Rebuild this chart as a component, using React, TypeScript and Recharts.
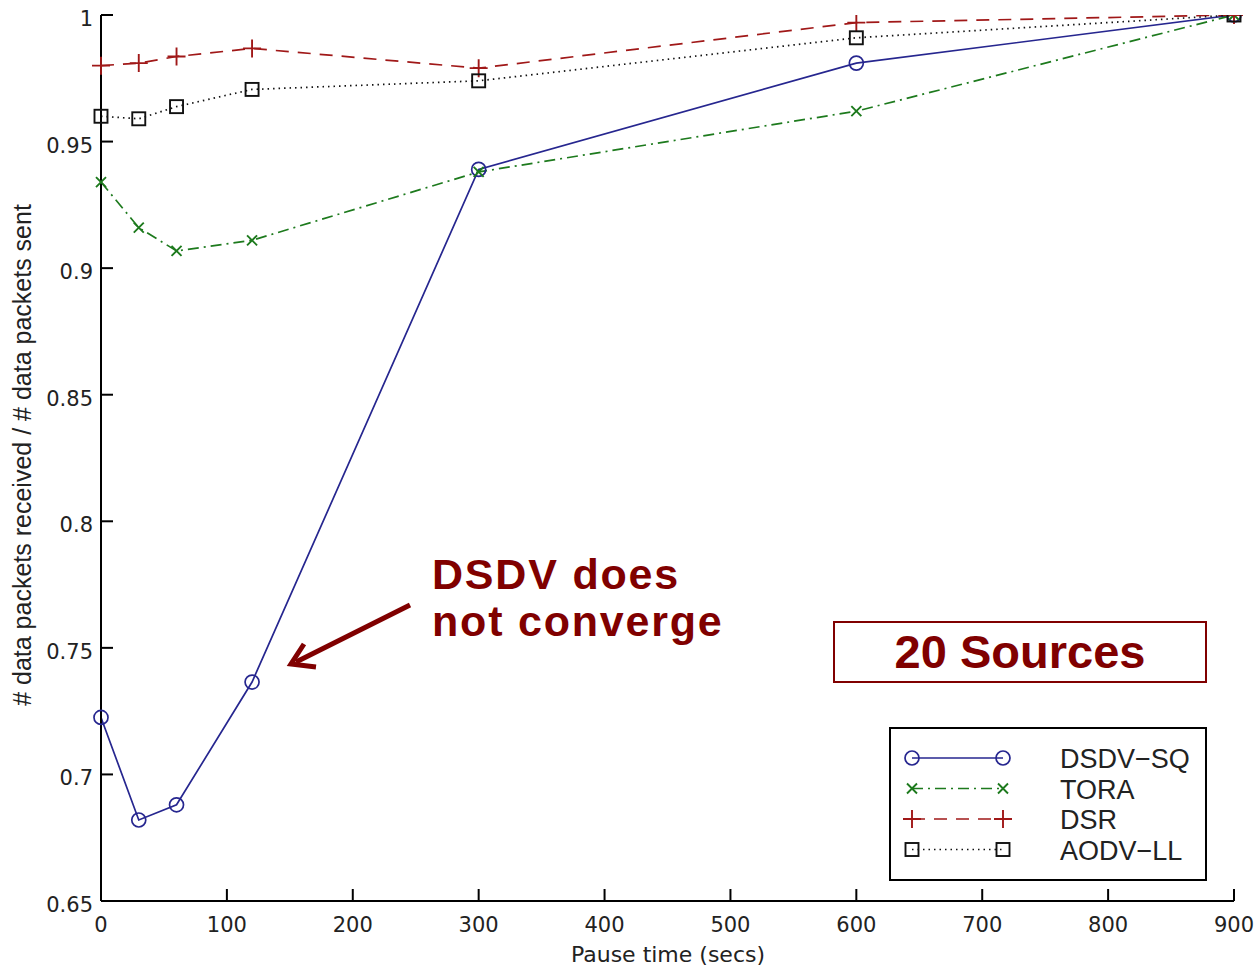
import { LineChart, Line, XAxis, YAxis } from 'recharts'

// pause time (s) at which each protocol was measured
const PAUSE = [0, 30, 60, 120, 300, 600, 900]

// fraction of data packets delivered
const DSDV_SQ = [0.7225, 0.682, 0.688, 0.7365, 0.939, 0.981, 1.0]
const TORA = [0.934, 0.916, 0.9068, 0.911, 0.938, 0.962, 1.0]
const DSR = [0.98, 0.981, 0.9836, 0.9868, 0.979, 0.997, 1.0]
const AODV_LL = [0.96, 0.959, 0.9638, 0.9706, 0.974, 0.991, 1.0]

const X_TICKS = [0, 100, 200, 300, 400, 500, 600, 700, 800, 900]
const Y_TICKS = [0.65, 0.7, 0.75, 0.8, 0.85, 0.9, 0.95, 1]

type MarkerKind = 'circle' | 'cross' | 'plus' | 'square'

const SERIES: { key: string; name: string; color: string; dash?: string; marker: MarkerKind; values: number[] }[] = [
  { key: 'dsdv', name: 'DSDV\u2212SQ', color: '#26268f', marker: 'circle', values: DSDV_SQ },
  { key: 'tora', name: 'TORA', color: '#1d7a1d', dash: '11 5 2 5', marker: 'cross', values: TORA },
  { key: 'dsr', name: 'DSR', color: '#a01818', dash: '13 9', marker: 'plus', values: DSR },
  { key: 'aodv', name: 'AODV\u2212LL', color: '#111111', dash: '1.5 4', marker: 'square', values: AODV_LL },
]

const rows = PAUSE.map((t, i) => {
  const row: Record<string, number> = { t }
  SERIES.forEach(s => { row[s.key] = s.values[i] })
  return row
})

const TICK_FONT = '"DejaVu Sans", sans-serif'
const RED = '#800000'

function Marker({ kind, cx, cy, color }: { kind: MarkerKind; cx: number; cy: number; color: string }) {
  if (kind === 'circle') return <circle cx={cx} cy={cy} r={7} fill="none" stroke={color} strokeWidth={1.7} />
  if (kind === 'cross') {
    const d = 5
    return (
      <path d={`M${cx - d},${cy - d}L${cx + d},${cy + d}M${cx - d},${cy + d}L${cx + d},${cy - d}`} stroke={color} strokeWidth={1.9} />
    )
  }
  if (kind === 'plus') {
    const d = 9
    return <path d={`M${cx - d},${cy}L${cx + d},${cy}M${cx},${cy - d}L${cx},${cy + d}`} stroke={color} strokeWidth={1.9} />
  }
  return <rect x={cx - 6.5} y={cy - 6.5} width={13} height={13} fill="none" stroke={color} strokeWidth={1.9} />
}

// MATLAB style ticks pointing into the plot box
const bottomTick = (p: any) => (
  <g>
    <line x1={p.x} y1={p.y} x2={p.x} y2={p.y - 12} stroke="#000" strokeWidth={2} />
    <text x={p.x} y={p.y + 31} textAnchor="middle" fontFamily={TICK_FONT} fontSize={21} fill="#222">
      {p.payload.value}
    </text>
  </g>
)
const topTick = (p: any) => <line x1={p.x} y1={p.y} x2={p.x} y2={p.y + 12} stroke="#000" strokeWidth={2} />
const leftTick = (p: any) => (
  <g>
    <line x1={p.x} y1={p.y} x2={p.x + 12} y2={p.y} stroke="#000" strokeWidth={2} />
    <text x={p.x - 8} y={p.y + 11} textAnchor="end" fontFamily={TICK_FONT} fontSize={21} fill="#222">
      {String(p.payload.value)}
    </text>
  </g>
)
const rightTick = (p: any) => <line x1={p.x} y1={p.y} x2={p.x - 12} y2={p.y} stroke="#000" strokeWidth={2} />

function LegendBox() {
  const x0 = 890
  const y0 = 728
  return (
    <g>
      <rect x={x0} y={y0} width={316} height={152} fill="#fff" stroke="#000" strokeWidth={2} />
      {SERIES.map((s, i) => {
        const y = 758 + i * 30.5
        return (
          <g key={s.key}>
            <line x1={912} y1={y} x2={1003} y2={y} stroke={s.color} strokeWidth={1.7} strokeDasharray={s.dash} />
            <Marker kind={s.marker} cx={912} cy={y} color={s.color} />
            <Marker kind={s.marker} cx={1003} cy={y} color={s.color} />
            <text x={1060} y={y + 10} fontFamily='"Liberation Sans", Arial, sans-serif' fontSize={27} fill="#222">
              {s.name}
            </text>
          </g>
        )
      })}
    </g>
  )
}

function Annotations() {
  return (
    <svg width={1259} height={968} style={{ position: 'absolute', left: 0, top: 0, pointerEvents: 'none' }}>
      <g fontFamily='"Liberation Sans", Arial, sans-serif' fontWeight="bold" fill={RED}>
        <text x={432} y={589} fontSize={43} letterSpacing={1.8}>DSDV does</text>
        <text x={432} y={636} fontSize={43} letterSpacing={1.8}>not converge</text>
        <rect x={834} y={622} width={372} height={60} fill="none" stroke={RED} strokeWidth={2} />
        <text x={1020} y={668} fontSize={47} textAnchor="middle">20 Sources</text>
      </g>
      <line x1={410} y1={605} x2={296} y2={662} stroke={RED} strokeWidth={5} />
      <polyline points="304,644 291,664 316,667" fill="none" stroke={RED} strokeWidth={5} strokeLinejoin="miter" />
      <text
        transform="translate(31,455) rotate(-90)"
        textAnchor="middle"
        fontFamily='"Liberation Sans", Arial, sans-serif'
        fontSize={25}
        fill="#222"
      >
        # data packets received / # data packets sent
      </text>
      <text x={668} y={962} textAnchor="middle" fontFamily={TICK_FONT} fontSize={22} fill="#222">
        Pause time (secs)
      </text>
      <LegendBox />
    </svg>
  )
}

export default function App() {
  return (
    <div style={{ position: 'absolute', left: 0, top: 0, width: 1259, height: 968, background: '#fff' }}>
      <LineChart width={1259} height={968} data={rows} margin={{ top: 15, right: 25, bottom: 37, left: 41 }}>
        <XAxis
          dataKey="t"
          type="number"
          domain={[0, 900]}
          ticks={X_TICKS}
          height={30}
          tickSize={0}
          tickMargin={0}
          tick={bottomTick}
          axisLine={{ stroke: '#000', strokeWidth: 2 }}
          tickLine={false}
        />
        <XAxis
          xAxisId="top"
          orientation="top"
          dataKey="t"
          type="number"
          domain={[0, 900]}
          ticks={X_TICKS}
          height={0}
          tickSize={0}
          tickMargin={0}
          tick={topTick}
          axisLine={{ stroke: '#000', strokeWidth: 2 }}
          tickLine={false}
        />
        <YAxis
          type="number"
          domain={[0.65, 1]}
          ticks={Y_TICKS}
          width={60}
          tickSize={0}
          tickMargin={0}
          tick={leftTick}
          axisLine={{ stroke: '#000', strokeWidth: 2 }}
          tickLine={false}
          allowDataOverflow
        />
        <YAxis
          yAxisId="right"
          orientation="right"
          type="number"
          domain={[0.65, 1]}
          ticks={Y_TICKS}
          width={0}
          tickSize={0}
          tickMargin={0}
          tick={rightTick}
          axisLine={{ stroke: '#000', strokeWidth: 2 }}
          tickLine={false}
        />
        {SERIES.map(s => (
          <Line
            key={s.key}
            dataKey={s.key}
            name={s.name}
            type="linear"
            stroke={s.color}
            strokeWidth={1.7}
            strokeDasharray={s.dash}
            isAnimationActive={false}
            activeDot={false}
            dot={(p: any) => <Marker key={`${s.key}-${p.index}`} kind={s.marker} cx={p.cx} cy={p.cy} color={s.color} />}
          />
        ))}
      </LineChart>
      <Annotations />
    </div>
  )
}
